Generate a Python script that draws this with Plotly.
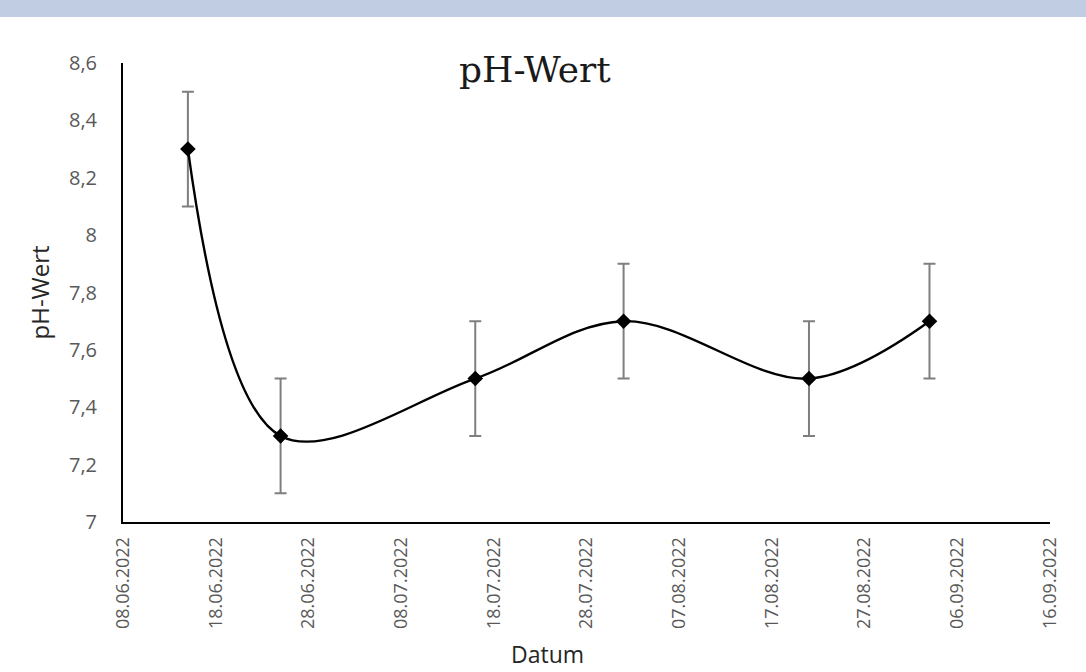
import plotly.graph_objects as go

dates = ["2022-06-15", "2022-06-25", "2022-07-16", "2022-08-01", "2022-08-21", "2022-09-03"]
ph = [8.3, 7.3, 7.5, 7.7, 7.5, 7.7]
err = [0.2, 0.2, 0.2, 0.2, 0.2, 0.2]
tick_dates = ["2022-06-08", "2022-06-18", "2022-06-28", "2022-07-08", "2022-07-18", "2022-07-28",
              "2022-08-07", "2022-08-17", "2022-08-27", "2022-09-06", "2022-09-16"]
tick_labels = ["08.06.2022", "18.06.2022", "28.06.2022", "08.07.2022", "18.07.2022", "28.07.2022",
               "07.08.2022", "17.08.2022", "27.08.2022", "06.09.2022", "16.09.2022"]
y_ticks = [7, 7.2, 7.4, 7.6, 7.8, 8, 8.2, 8.4, 8.6]
y_labels = ["7", "7,2", "7,4", "7,6", "7,8", "8", "8,2", "8,4", "8,6"]

W, H = 1086, 672
L, R, T, B = 123, 36, 63, 150
PW, PH = W - L - R, H - T - B

fig = go.Figure()
fig.add_trace(go.Scatter(
    x=dates, y=ph, mode="lines+markers",
    line=dict(color="black", width=2.4, shape="spline", smoothing=1.0),
    marker=dict(symbol="diamond", size=12, color="black"),
    error_y=dict(type="data", array=err, visible=True, color="#7f7f7f", thickness=2, width=6),
    showlegend=False,
))

fig.update_layout(
    width=W, height=H,
    margin=dict(l=L, r=R, t=T, b=B),
    plot_bgcolor="white", paper_bgcolor="white",
    xaxis=dict(
        type="date", range=["2022-06-08", "2022-09-16"],
        tickvals=tick_dates, ticktext=tick_labels, tickangle=-90,
        tickfont=dict(family="Open Sans", size=18, color="#595959"),
        showgrid=False, zeroline=False,
        showline=True, linecolor="black", linewidth=2,
        ticks="", ticklabelstandoff=6,
    ),
    yaxis=dict(
        range=[7, 8.6], tickvals=y_ticks, ticktext=y_labels,
        tickfont=dict(family="Open Sans", size=20, color="#595959"),
        showgrid=False, zeroline=False,
        showline=True, linecolor="black", linewidth=2,
        ticks="", ticklabelstandoff=20,
    ),
    shapes=[dict(type="rect", xref="paper", yref="paper", x0=-0.2, x1=1.1,
                 y0=1 + (T - 17) / PH, y1=1.3, fillcolor="#c1cde3", line=dict(width=0), layer="below")],
    annotations=[
        dict(text="pH-Wert", xref="paper", yref="paper", x=(535 - L) / PW, y=1 - (70 - T) / PH,
             xanchor="center", yanchor="middle", showarrow=False,
             font=dict(family="DejaVu Serif", size=36, color="#1a1a1a")),
        dict(text="Datum", xref="paper", yref="paper", x=(547 - L) / PW, y=-(654 - T - PH) / PH,
             xanchor="center", yanchor="middle", showarrow=False,
             font=dict(family="Open Sans", size=23, color="#262626")),
        dict(text="pH-Wert", xref="paper", yref="paper", x=(39 - L) / PW, y=0.5, textangle=-90,
             xanchor="center", yanchor="middle", showarrow=False,
             font=dict(family="Open Sans", size=24, color="#262626")),
    ],
)

fig.write_html("out.html", config={"displayModeBar": False},
               post_script="document.body.style.margin='0';")
